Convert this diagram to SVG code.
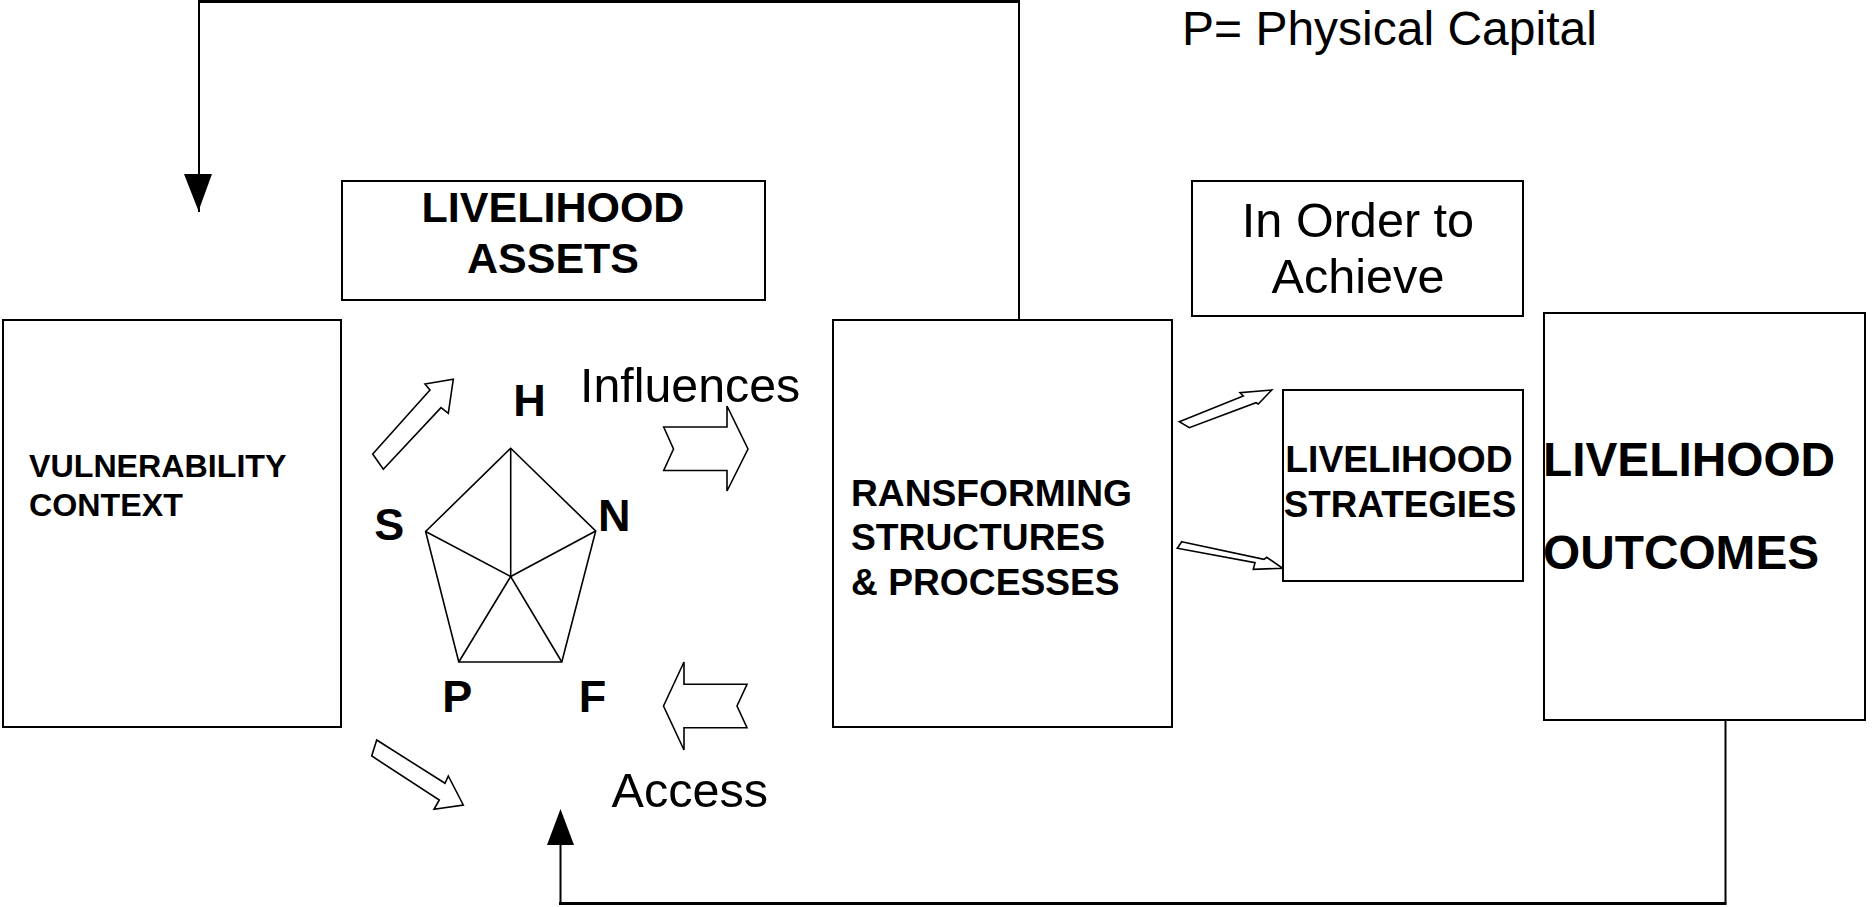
<svg xmlns="http://www.w3.org/2000/svg" width="1875" height="907" viewBox="0 0 1875 907">
<style>
.box{fill:#fff;stroke:#000;stroke-width:2}
.blk{fill:#fff;stroke:#000;stroke-width:1.6;stroke-linejoin:miter}
.ln{fill:none;stroke:#000;stroke-width:2}
.thick{fill:none;stroke:#000;stroke-width:3}
.head{fill:#000;stroke:none}
.b{font-family:"Liberation Sans",Arial,sans-serif;font-weight:bold;fill:#000}
.r{font-family:"Liberation Sans",Arial,sans-serif;font-weight:normal;fill:#000}
.pent{fill:none;stroke:#000;stroke-width:1.6;stroke-linejoin:miter}
</style>
<rect x="0" y="0" width="1875" height="907" fill="#fff"/>

<g id="connectors">
  <polyline class="ln" points="199,212 199,1.5"/>
  <line class="thick" x1="198" y1="1.5" x2="1020" y2="1.5"/>
  <polyline class="ln" points="1019,1.5 1019,320"/>
  <polygon class="head" points="184,174 212,174 198.5,211"/>
  <polyline class="ln" points="1725.5,720 1725.5,903.5"/>
  <line class="thick" x1="559" y1="903.5" x2="1726.5" y2="903.5"/>
  <polyline class="ln" points="560.5,903.5 560.5,844"/>
  <polygon class="head" points="547,845 574,845 560.5,809"/>
  <polygon id="arrow-up-right" class="blk" points="372.7,454 430,390 425,384 453.3,379.3 448.3,413.3 441,407.7 383.3,469.3"/>
  <polygon id="arrow-down-right" class="blk" points="376.7,740 445,783.3 448.3,776 463.3,805 434,809.3 439.3,800 371.7,756"/>
  <polygon id="arrow-influences" class="blk" points="663.7,427 727,427 727,406 748,449 727,491 727,470.5 663.7,470.5 673.5,449"/>
  <polygon id="arrow-access" class="blk" points="663.5,706 684,662 684,684.3 747,684.3 737,706 747,727.7 684,727.7 684,750"/>
  <polygon id="arrow-strat-up" class="blk" points="1179.3,421.7 1243.3,396 1240,392.7 1271.7,390 1258.3,404 1256,402.7 1189.3,427.7"/>
  <polygon id="arrow-strat-down" class="blk" points="1181.7,541.7 1264,559.3 1266.7,557.3 1282.7,568.3 1253.3,569.3 1255,562.7 1177.3,548.3"/>
</g>

<g id="vulnerability-context">
  <rect class="box" x="3" y="320" width="338" height="407"/>
  <text class="b" x="29" y="477" font-size="32.2">VULNERABILITY</text>
  <text class="b" x="29" y="516" font-size="32.2">CONTEXT</text>
</g>

<g id="livelihood-assets">
  <rect class="box" x="342" y="181" width="423" height="119"/>
  <text class="b" x="553" y="222" font-size="43" text-anchor="middle">LIVELIHOOD</text>
  <text class="b" x="553" y="273" font-size="43" text-anchor="middle">ASSETS</text>
</g>

<g id="asset-pentagon">
  <polygon class="pent" points="510.7,448.3 595.7,531 561.8,662 458.8,662 425.6,531.5"/>
  <polyline class="pent" points="510.7,448.3 510.7,576.5"/>
  <polyline class="pent" points="425.6,531.5 510.7,576.5 595.7,531"/>
  <polyline class="pent" points="458.8,662 510.7,576.5 561.8,662"/>
  <text class="b" x="529.6" y="415.7" font-size="45" text-anchor="middle">H</text>
  <text class="b" x="389.2" y="540.3" font-size="45" text-anchor="middle">S</text>
  <text class="b" x="614.3" y="530.5" font-size="45" text-anchor="middle">N</text>
  <text class="b" x="457.3" y="711.5" font-size="45" text-anchor="middle">P</text>
  <text class="b" x="592.4" y="711.5" font-size="45" text-anchor="middle">F</text>
</g>

<g id="label-influences">
  <text class="r" x="580" y="402" font-size="48.3">Influences</text>
</g>
<g id="label-access">
  <text class="r" x="611.5" y="807" font-size="48.6">Access</text>
</g>

<g id="transforming-structures">
  <rect class="box" x="833" y="320" width="339" height="407"/>
  <text class="b" x="851" y="505.5" font-size="37.2">RANSFORMING</text>
  <text class="b" x="851" y="550" font-size="37.2">STRUCTURES</text>
  <text class="b" x="851" y="595" font-size="37.2">&amp; PROCESSES</text>
</g>

<g id="in-order-to-achieve">
  <rect class="box" x="1192" y="181" width="331" height="135"/>
  <text class="r" x="1358" y="237" font-size="48.6" text-anchor="middle">In Order to</text>
  <text class="r" x="1358" y="293" font-size="48.6" text-anchor="middle">Achieve</text>
</g>

<g id="livelihood-strategies">
  <rect class="box" x="1283" y="390" width="240" height="191"/>
  <text class="b" x="1399" y="472" font-size="37.2" text-anchor="middle">LIVELIHOOD</text>
  <text class="b" x="1400" y="516.5" font-size="36.8" text-anchor="middle">STRATEGIES</text>
</g>

<g id="livelihood-outcomes">
  <rect class="box" x="1544" y="313" width="321" height="407"/>
  <text class="b" x="1543" y="476" font-size="47.8">LIVELIHOOD</text>
  <text class="b" x="1543" y="569" font-size="47.8">OUTCOMES</text>
</g>

<g id="legend">
  <text class="r" x="1182" y="45" font-size="48">P= Physical Capital</text>
</g>
</svg>
